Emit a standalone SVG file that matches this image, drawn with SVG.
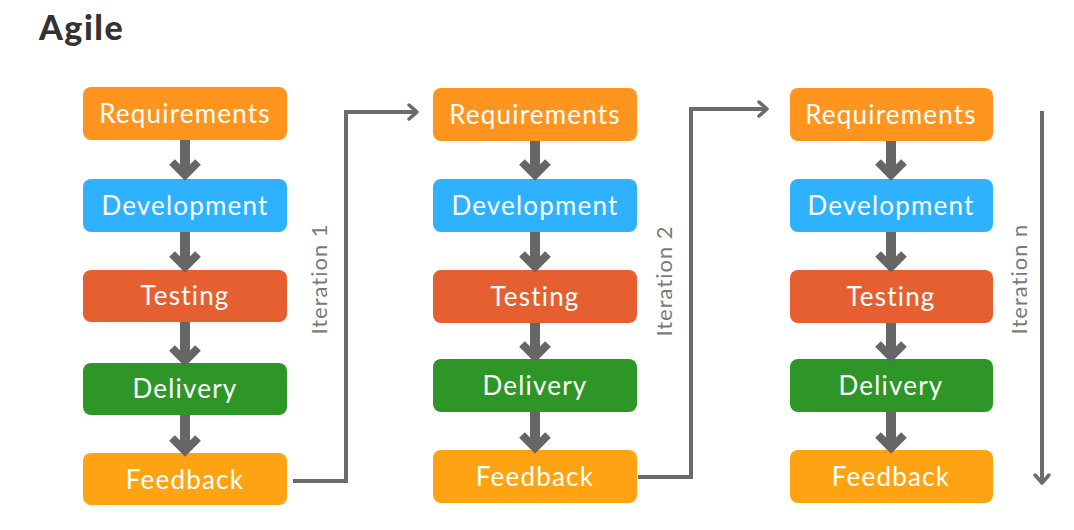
<svg xmlns="http://www.w3.org/2000/svg" width="1074" height="530" viewBox="0 0 1074 530">
<style>
.title{font-family:"Lato","Open Sans",sans-serif;font-weight:900;font-size:34px;fill:#333333;letter-spacing:1.5px}
.lbl{font-family:"Lato","Open Sans",sans-serif;font-size:26px;fill:#ffffff;text-anchor:middle;letter-spacing:1.2px;font-variant-ligatures:none}
.it{font-family:"Lato","Open Sans",sans-serif;font-size:22px;fill:#7a7a7a;text-anchor:middle;letter-spacing:1px;font-variant-ligatures:none}
.req{fill:#FF951E}.dev{fill:#2EB1FF}.tst{fill:#E55F31}.del{fill:#2D9627}.fb{fill:#FFA312}
.shaft{stroke:#666666;stroke-width:10;fill:none}
.chev{stroke:#666666;stroke-width:8;fill:none;stroke-linejoin:miter}
.conn{stroke:#6b6b6b;stroke-width:4;fill:none}
.head{stroke:#6b6b6b;stroke-width:3.5;fill:none;stroke-linecap:round;stroke-linejoin:round}
</style>
<rect width="1074" height="530" fill="#ffffff"/>
<text class="title" x="39" y="40">Agile</text>

<g id="col1">
<g id="req1"><rect class="req" x="83" y="87" width="204" height="53" rx="8"/><text class="lbl" x="185" y="123">Requirements</text></g>
<g id="dev1"><rect class="dev" x="83" y="179" width="204" height="53" rx="8"/><text class="lbl" x="185" y="215">Development</text></g>
<g id="tst1"><rect class="tst" x="83" y="270" width="204" height="52" rx="8"/><text class="lbl" x="185" y="305">Testing</text></g>
<g id="del1"><rect class="del" x="83" y="363" width="204" height="52" rx="8"/><text class="lbl" x="185" y="398">Delivery</text></g>
<g id="fb1"><rect class="fb" x="83" y="453" width="204" height="52" rx="8"/><text class="lbl" x="185" y="489">Feedback</text></g>
</g>

<g id="col2">
<g id="req2"><rect class="req" x="433" y="88" width="204" height="53" rx="8"/><text class="lbl" x="535" y="124">Requirements</text></g>
<g id="dev2"><rect class="dev" x="433" y="179" width="204" height="53" rx="8"/><text class="lbl" x="535" y="215">Development</text></g>
<g id="tst2"><rect class="tst" x="433" y="270" width="204" height="53" rx="8"/><text class="lbl" x="535" y="306">Testing</text></g>
<g id="del2"><rect class="del" x="433" y="359" width="204" height="53" rx="8"/><text class="lbl" x="535" y="395">Delivery</text></g>
<g id="fb2"><rect class="fb" x="433" y="450" width="204" height="53" rx="8"/><text class="lbl" x="535" y="486">Feedback</text></g>
</g>

<g id="col3">
<g id="req3"><rect class="req" x="790" y="88" width="203" height="53" rx="8"/><text class="lbl" x="891" y="124">Requirements</text></g>
<g id="dev3"><rect class="dev" x="790" y="179" width="203" height="53" rx="8"/><text class="lbl" x="891" y="215">Development</text></g>
<g id="tst3"><rect class="tst" x="790" y="270" width="203" height="53" rx="8"/><text class="lbl" x="891" y="306">Testing</text></g>
<g id="del3"><rect class="del" x="790" y="359" width="203" height="53" rx="8"/><text class="lbl" x="891" y="395">Delivery</text></g>
<g id="fb3"><rect class="fb" x="790" y="450" width="203" height="53" rx="8"/><text class="lbl" x="891" y="486">Feedback</text></g>
</g>

<g id="connectors">
<path class="shaft" d="M185 140 V170 M185 232 V263 M185 322 V356 M185 415 V446"/>
<path class="chev" d="M172 162 L185 175 L198 162 M172 254 L185 267 L198 254 M172 348 L185 361 L198 348 M172 438 L185 451 L198 438"/>
<path class="shaft" d="M535 141 V170 M535 232 V263 M535 323 V352 M535 412 V443"/>
<path class="chev" d="M522 162 L535 175 L548 162 M522 254 L535 267 L548 254 M522 344 L535 357 L548 344 M522 435 L535 448 L548 435"/>
<path class="shaft" d="M891 141 V170 M891 232 V263 M891 323 V352 M891 412 V443"/>
<path class="chev" d="M878 162 L891 175 L904 162 M878 254 L891 267 L904 254 M878 344 L891 357 L904 344 M878 435 L891 448 L904 435"/>

<path class="conn" d="M293 481 H346 V112 H416"/>
<path class="head" d="M409 105 L417 112 L409 119"/>
<path class="conn" d="M638 477 H691 V109 H766"/>
<path class="head" d="M759 102 L767 109 L759 116"/>
<path class="conn" d="M1042 111 V482"/>
<path class="head" d="M1035 475 L1042 483 L1049 475"/>
</g>

<text class="it" transform="translate(327 279) rotate(-90)">Iteration 1</text>
<text class="it" transform="translate(672 281) rotate(-90)">Iteration 2</text>
<text class="it" transform="translate(1027 279) rotate(-90)">Iteration n</text>
</svg>
